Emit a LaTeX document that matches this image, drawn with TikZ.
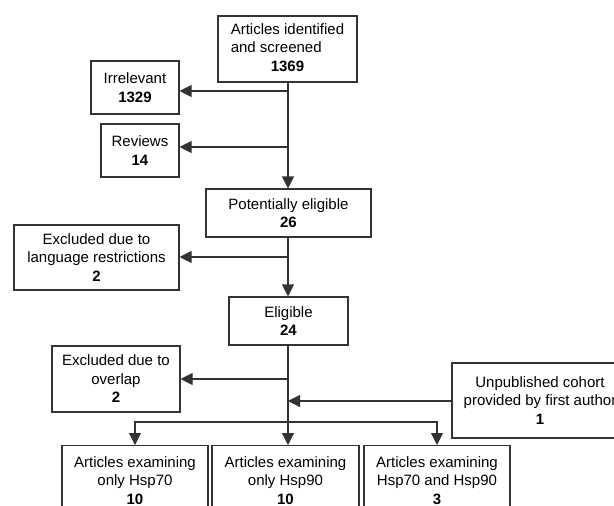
\documentclass[tikz,border=0pt]{standalone}
\usepackage{fontspec}
\setmainfont{Liberation Sans}
\usetikzlibrary{arrows.meta}

\tikzset{
  box/.style={draw=black!80, line width=1.1pt, inner sep=0pt, align=center,
    font=\fontsize{15}{18.5}\selectfont},
  arr/.style={draw=black!80, line width=1.1pt, -{Triangle[length=12pt,width=12pt]}},
  ln/.style={draw=black!80, line width=1.1pt}
}

\begin{document}
\begin{tikzpicture}[x=1pt,y=-1pt]
  \clip (0,0) rectangle (614,506);
  \fill[white] (0,0) rectangle (614,506);

  % boxes
  \node[box, minimum width=139pt, minimum height=66pt] (A) at (287.5,49)
    {\begin{tabular}{@{}l@{}}Articles identified\\and screened\\\multicolumn{1}{@{}c@{}}{\textbf{1369}}\end{tabular}};
  \node[box, minimum width=88pt, minimum height=53pt] (B) at (135,87.5) {Irrelevant\\\textbf{1329}};
  \node[box, minimum width=78pt, minimum height=53pt] (C) at (140,150.5) {Reviews\\\textbf{14}};
  \node[box, minimum width=165pt, minimum height=48pt] (D) at (288.5,213) {Potentially eligible\\\textbf{26}};
  \node[box, minimum width=165pt, minimum height=65pt] (E) at (96.5,257.5) {Excluded due to\\language restrictions\\\textbf{2}};
  \node[box, minimum width=119pt, minimum height=48pt] (F) at (288.5,321) {Eligible\\\textbf{24}};
  \node[box, minimum width=128pt, minimum height=66pt] (G) at (116,379) {Excluded due to\\overlap\\\textbf{2}};
  \node[box, minimum width=176pt, minimum height=75pt] (H) at (540,400.5) {Unpublished cohort\\provided by first author\\\textbf{1}};
  \node[box, minimum width=146pt, minimum height=70pt, anchor=north] (I) at (135,445) {Articles examining\\only Hsp70\\\textbf{10}};
  \node[box, minimum width=147pt, minimum height=70pt, anchor=north] (J) at (285.5,445) {Articles examining\\only Hsp90\\\textbf{10}};
  \node[box, minimum width=146pt, minimum height=70pt, anchor=north] (K) at (437,445) {Articles examining\\Hsp70 and Hsp90\\\textbf{3}};

  % points on the trunk
  \coordinate (t1) at (288,91);
  \coordinate (t2) at (288,147);
  \coordinate (t3) at (288,257);
  \coordinate (t4) at (288,379);
  \coordinate (t5) at (288,401);
  \coordinate (sp) at (288,422);

  % connectors
  \draw[ln] (A.south -| t1) -- (t1);
  \draw[arr] (t1) -- (t1 -| B.east);
  \draw[arr] (t2) -- (t2 -| C.east);
  \draw[arr] (t1) -- (t1 |- D.north);
  \draw[ln] (D.south -| t3) -- (t3);
  \draw[arr] (t3) -- (t3 -| E.east);
  \draw[arr] (t3) -- (t3 |- F.north);
  \draw[ln] (F.south -| t4) -- (t4);
  \draw[arr] (t4) -- (t4 -| G.east);
  \draw[arr] (H.west |- t5) -- (t5);
  \draw[arr] (t4) -- (t4 |- J.north);
  \draw[arr] (sp) -| (I.north);
  \draw[arr] (sp) -| (K.north);
\end{tikzpicture}
\end{document}
